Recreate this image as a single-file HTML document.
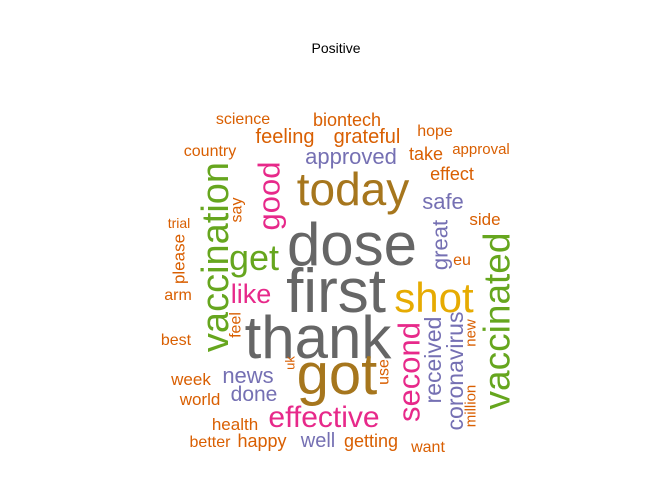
<!DOCTYPE html>
<html><head><meta charset="utf-8"><style>
body{margin:0;background:#fff}
svg{display:block}
text{font-family:"Liberation Sans",Arial,sans-serif}
</style></head><body>
<svg id="c" width="672" height="480">
<text x="336" y="53" text-anchor="middle" font-size="14" fill="#000">Positive</text>
<g id="cloud"></g>
</svg>
<script>
const words=["dose","first","thank","got","today","shot","vaccinated","vaccination","get","like","good","effective","second","approved","news","done","well","safe","great","received","coronavirus","feeling","grateful","biontech","science","country","hope","take","approval","effect","side","eu","new","million","use","getting","want","say","trial","please","arm","best","feel","uk","week","world","health","better","happy"];
const sizes=[60,62,60,58,46,42,37,38,36,27,31,30,31,22,22,21,20,22,22,23,23,20,20,18,16,16,16,18,15,18,17,16,15,15,16,18,16,16,14,17,16,16,16,13,17,17,17,16,18];
const colors=["#666666","#666666","#666666","#A6761D","#A6761D","#E6AB02","#66A61E","#66A61E","#66A61E","#E7298A","#E7298A","#E7298A","#E7298A","#7570B3","#7570B3","#7570B3","#7570B3","#7570B3","#7570B3","#7570B3","#7570B3","#D95F02","#D95F02","#D95F02","#D95F02","#D95F02","#D95F02","#D95F02","#D95F02","#D95F02","#D95F02","#D95F02","#D95F02","#D95F02","#D95F02","#D95F02","#D95F02","#D95F02","#D95F02","#D95F02","#D95F02","#D95F02","#D95F02","#D95F02","#D95F02","#D95F02","#D95F02","#D95F02","#D95F02"];
const rotated=[0,0,0,0,0,0,1,1,0,0,1,0,1,0,0,0,0,0,1,1,1,0,0,0,0,0,0,0,0,0,0,0,1,1,1,0,0,1,0,1,0,0,1,1,0,0,0,0,0];
// layout placement (x center, y baseline or rotated center)
const layout=[[352,265],[336,312],[318,358],[337,394],[353,205],[434,312],[497,321],[216,257],[254,270],[251,303],[269,196],[324,427],[409,372],[351,164],[248,383],[254,401],[318,447],[443,209],[440,245],[433,360],[455,371],[285,143],[367,143],[347,126],[243,124],[210,156],[435,136],[426,160],[481,154],[452,180],[485,225],[462,265],[471,333],[471,406],[384,372],[371,447],[428,452],[237,210],[179,228],[179,259],[178,300],[176,345],[236,325],[290,363],[191,385],[200,405],[235,430],[210,447],[262,447]];
const g=document.getElementById('cloud');
words.forEach((w,i)=>{
  const t=document.createElementNS('http://www.w3.org/2000/svg','text');
  
  
  t.setAttribute('text-anchor','middle');
  t.setAttribute('font-size',sizes[i]);
  t.setAttribute('fill',colors[i]);
  const [x,y]=layout[i];
  if(rotated[i]){
    t.setAttribute('dominant-baseline','central');
    t.setAttribute('transform','translate('+x+','+y+') rotate(-90)');
  }else{
    t.setAttribute('x',x);t.setAttribute('y',y);
  }
  t.textContent=w;
  g.appendChild(t);
});
</script>
</body></html>
